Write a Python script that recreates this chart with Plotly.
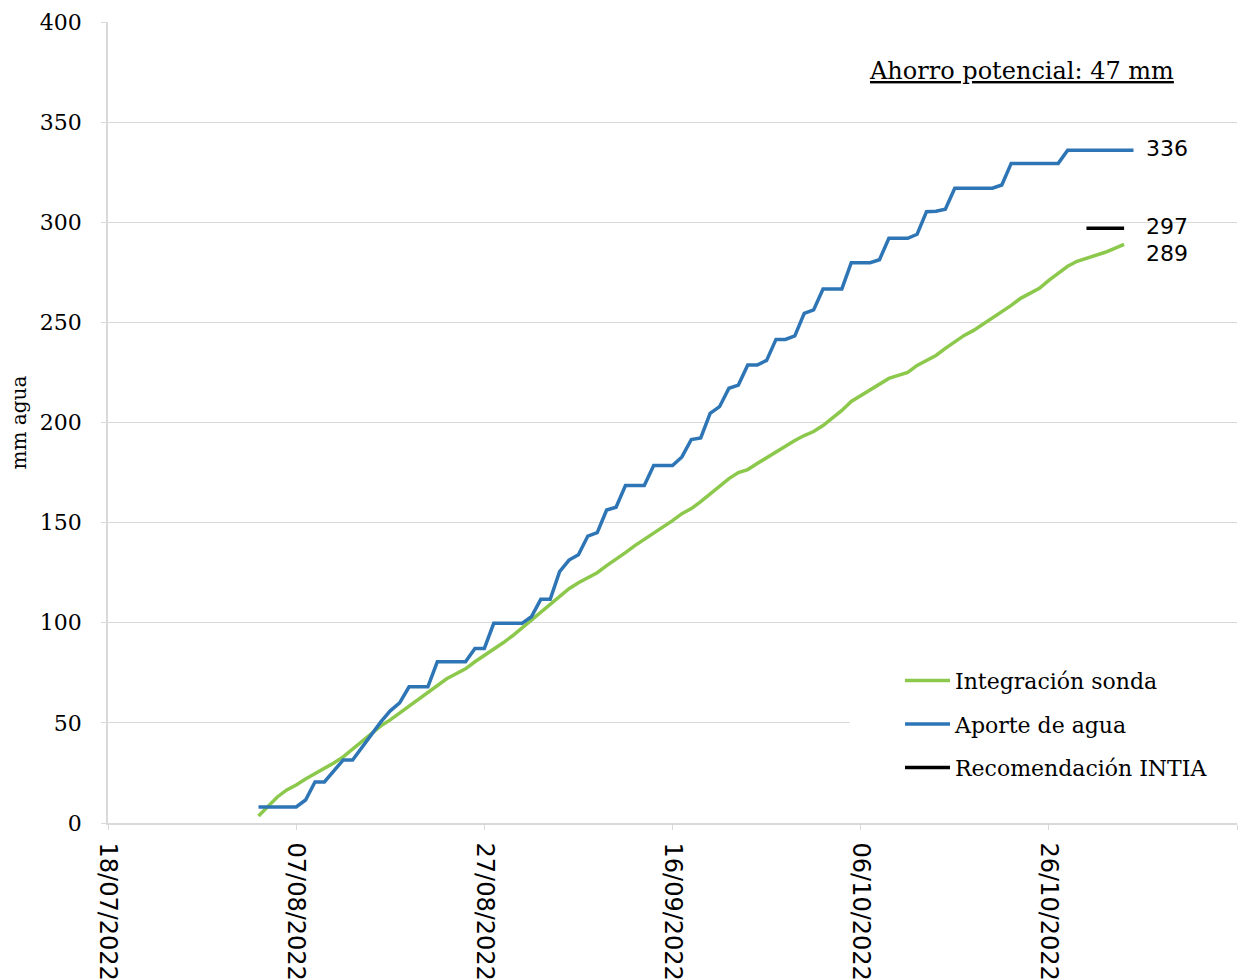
import pandas as pd
import plotly.graph_objects as go

# Cumulative water balance, daily values (mm)
sonda_start = "2022-08-03"
sonda_mm = [
    3.5, 8.5, 13, 16.5, 19, 22, 24.5, 27, 30, 33,
    37, 40.5, 44.5, 48.5, 51.5, 55, 58.5, 61.5, 65, 68.5,
    72, 74.5, 77, 80.5, 83.5, 86.5, 90, 93.5, 97.5, 101.5,
    105.5, 109.5, 113, 117, 120, 122.5, 125, 128.5, 131.5, 135,
    138.5, 141.5, 144.5, 147.5, 151, 154.5, 157, 160.5, 164.5, 168.5,
    172, 175, 176.5, 179.5, 182.5, 185.5, 188, 191, 193.5, 195.5,
    198.5, 202, 206, 210.5, 213.5, 216.5, 219.5, 222, 223.5, 225,
    228.5, 231, 233.5, 237, 240.5, 243.5, 246, 249, 252.5, 255,
    258.5, 262, 264.5, 267, 271, 274.5, 278, 280.5, 282, 283.5,
    285, 287, 289,
]

aporte_start = "2022-08-03"
aporte_mm = [
    8, 8, 8, 8, 8, 11.5, 20.5, 20.5, 26, 31.5,
    31.5, 38, 44, 50.5, 56, 60, 68, 68, 68, 80.5,
    80.5, 80.5, 80.5, 87.2, 87.2, 99.7, 99.7, 99.7, 99.7, 103,
    111.7, 111.7, 125.5, 131.3, 134, 143.3, 145, 156.3, 157.7, 168.5,
    168.5, 168.5, 178.5, 178.5, 178.5, 182.8, 191.5, 192.3, 204.6, 207.9,
    217.1, 218.7, 228.7, 228.7, 231, 241.5, 241.5, 243.2, 254.5, 256.2,
    266.7, 266.7, 266.7, 279.8, 279.8, 279.8, 281.3, 292, 292, 292,
    294, 305.3, 305.5, 306.5, 317, 317, 317, 317, 317, 318.6,
    329.4, 329.4, 329.4, 329.4, 329.4, 329.4, 336, 336, 336, 336,
    336, 336, 336, 336,
]

intia_dates = ["2022-10-30", "2022-11-03"]
intia_mm = [297, 297]

x_ticks = ["2022-07-18", "2022-08-07", "2022-08-27", "2022-09-16",
           "2022-10-06", "2022-10-26", "2022-11-15"]
y_ticks = [0, 50, 100, 150, 200, 250, 300, 350, 400]

sonda_dates = pd.date_range(sonda_start, periods=len(sonda_mm), freq="D")
aporte_dates = pd.date_range(aporte_start, periods=len(aporte_mm), freq="D")

GREEN = "#8CC84B"
BLUE = "#2E75B6"
SERIF = "DejaVu Serif"
SANS = "DejaVu Sans"

fig = go.Figure()
fig.add_trace(go.Scatter(
    x=sonda_dates, y=sonda_mm, mode="lines", name="Integración sonda",
    line=dict(color=GREEN, width=3.5), legendgroup="a",
))
fig.add_trace(go.Scatter(
    x=aporte_dates, y=aporte_mm, mode="lines", name="Aporte de agua",
    line=dict(color=BLUE, width=3.5), legendgroup="b",
))
fig.add_trace(go.Scatter(
    x=intia_dates, y=intia_mm, mode="lines", name="Recomendación INTIA",
    line=dict(color="#000000", width=3.5), legendgroup="c",
))

# End-of-season value labels
label_x = aporte_dates[-1]
label_font = dict(family=SANS, size=22, color="#000")
fig.add_annotation(x=label_x, y=aporte_mm[-1], text=str(round(aporte_mm[-1])),
                   xanchor="left", xshift=10, yshift=2, showarrow=False,
                   font=label_font)
fig.add_annotation(x=label_x, y=intia_mm[-1], text=str(round(intia_mm[-1])),
                   xanchor="left", xshift=10, yshift=2, showarrow=False,
                   font=label_font)
fig.add_annotation(x=label_x, y=sonda_mm[-1], text=str(round(sonda_mm[-1])),
                   xanchor="left", xshift=10, yshift=-9, showarrow=False,
                   font=label_font)

fig.add_annotation(xref="paper", yref="paper", x=0.809, y=0.939,
                   text="<u>Ahorro potencial: 47 mm</u>", showarrow=False,
                   xanchor="center", yanchor="middle",
                   font=dict(family=SERIF, size=24, color="#000"))

# White panel behind the legend, hiding the gridline there
fig.add_shape(type="rect", xref="paper", yref="paper",
              x0=0.657, x1=1.0, y0=0.035, y1=0.216,
              fillcolor="white", line=dict(width=0), layer="above")

fig.update_layout(
    width=1240, height=980,
    margin=dict(l=108, r=3, t=22, b=157),
    paper_bgcolor="white", plot_bgcolor="white",
    showlegend=True,
    legend=dict(x=0.7015, y=0.204, xanchor="left", yanchor="top",
                bgcolor="rgba(0,0,0,0)", borderwidth=0, itemwidth=45,
                tracegroupgap=12,
                font=dict(family=SERIF, size=22, color="#000")),
)
fig.update_xaxes(
    type="date", range=[x_ticks[0], x_ticks[-1]],
    tickvals=x_ticks, tickformat="%d/%m/%Y", tickangle=90,
    showgrid=False, showline=True, linecolor="#d9d9d9", linewidth=1.5,
    ticks="outside", ticklen=5, tickcolor="#d9d9d9",
    tickfont=dict(family=SANS, size=24, color="#000"),
    ticklabelstandoff=8, automargin=False,
)
fig.update_yaxes(
    range=[0, 400], tickvals=y_ticks,
    showgrid=True, gridcolor="#d9d9d9", gridwidth=1,
    showline=True, linecolor="#d9d9d9", linewidth=1.5,
    ticks="outside", ticklen=5, tickcolor="#d9d9d9",
    tickfont=dict(family=SERIF, size=22, color="#000"),
    ticklabelstandoff=15, automargin=False,
    zeroline=False,
    title=dict(text="mm agua", font=dict(family=SERIF, size=20, color="#000"),
               standoff=8),
)

fig.write_html("out.html")
